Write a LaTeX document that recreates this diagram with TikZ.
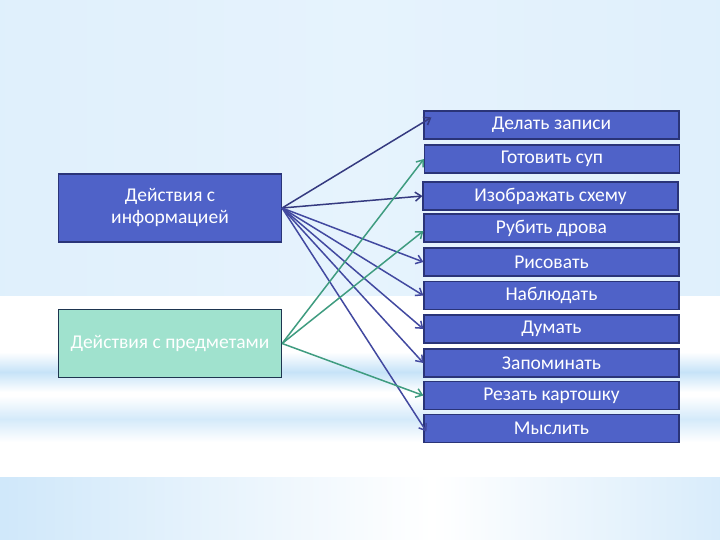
\documentclass[tikz,border=0pt]{standalone}
\usepackage{fontspec}
\setmainfont{Carlito}
\usetikzlibrary{arrows.meta}
\definecolor{bgedge}{HTML}{B3DAF6}
\definecolor{bgmid}{HTML}{DCEEFB}
\definecolor{bglight}{HTML}{E6F3FD}
\definecolor{streak}{HTML}{C6E3F8}
\definecolor{botedge}{HTML}{A8D4F5}
\definecolor{boxblue}{HTML}{4F62C8}
\definecolor{boxborder}{HTML}{2A3478}
\definecolor{mint}{HTML}{A0E2CE}
\definecolor{mintborder}{HTML}{1E3550}
\definecolor{infoarrow}{HTML}{4249A0}
\definecolor{greenarrow}{HTML}{3F9C80}
\pgfdeclarehorizontalshading{topbg}{100bp}{color(0bp)=(bgedge); color(12bp)=(bgmid); color(50bp)=(bglight); color(88bp)=(bgmid); color(100bp)=(bgedge)}
\pgfdeclarehorizontalshading{botbg}{100bp}{color(0bp)=(botedge); color(55bp)=(white); color(100bp)=(botedge)}
\tikzset{
  rbox/.style={draw=boxborder, line width=1.2pt, fill=boxblue, text=white,
    minimum width=255pt, minimum height=28pt, inner sep=0pt,
    font=\fontsize{19.5}{22}\selectfont},
  lbox/.style={draw=boxborder, line width=1.2pt, fill=boxblue, text=white,
    minimum width=223pt, minimum height=68pt, inner sep=0pt, align=center,
    font=\fontsize{19.5}{22}\selectfont},
  ibar/.style={draw=infoarrow, line width=1.5pt, -{Straight Barb[length=6pt,width=9pt]}},
  gbar/.style={draw=greenarrow, line width=1.5pt, -{Straight Barb[length=6pt,width=9pt]}}
}
\begin{document}
\begin{tikzpicture}[x=1pt,y=-1pt]
\useasboundingbox (0,0) rectangle (720,540);
% background
\shade[shading=topbg] (0,0) rectangle (720,296);
\fill[white] (0,296) rectangle (720,477);
\shade[top color=white, bottom color=white, middle color=streak] (0,352) rectangle (720,392);
\shade[top color=white, bottom color=white, middle color=streak!75] (0,396) rectangle (720,442);
\shade[shading=botbg] (0,477) rectangle (720,540);
% left boxes
\node[lbox] (info) at (170,208) {Действия с\\информацией};
\node[lbox, fill=mint, draw=mintborder] (obj) at (170,343.5) {Действия с предметами};
% right boxes
\node[rbox] (t1) at (551.5,125) {Делать записи};
\node[rbox] (t2) at (552,159) {Готовить суп};
\node[rbox] (t3) at (550.5,196) {Изображать схему};
\node[rbox] (t4) at (551.5,228) {Рубить дрова};
\node[rbox] (t5) at (551.5,262) {Рисовать};
\node[rbox] (t6) at (551.5,295.5) {Наблюдать};
\node[rbox] (t7) at (551.5,329) {Думать};
\node[rbox] (t8) at (551.5,363) {Запоминать};
\node[rbox] (t9) at (551.5,395.5) {Резать картошку};
\node[rbox] (t10) at (551.5,428.5) {Мыслить};
% arrows from info
\draw[ibar, draw=infoarrow!80!black] (info.east) -- ([xshift=8pt,yshift=-7pt]t1.north west);
\draw[ibar, draw=infoarrow!80!black] (info.east) -- (t3.west);
\draw[ibar] (info.east) -- (t5.west);
\draw[ibar] (info.east) -- (t6.west);
\draw[ibar] (info.east) -- (t7.west);
\draw[ibar] (info.east) -- (t8.west);
\draw[ibar] (info.east) -- ([xshift=3pt,yshift=-3pt]t10.west);
% arrows from objects
\draw[gbar] (obj.east) -- (t2.west);
\draw[gbar] (obj.east) -- ([yshift=-3pt]t4.west);
\draw[gbar] (obj.east) -- (t9.west);
\end{tikzpicture}
\end{document}
